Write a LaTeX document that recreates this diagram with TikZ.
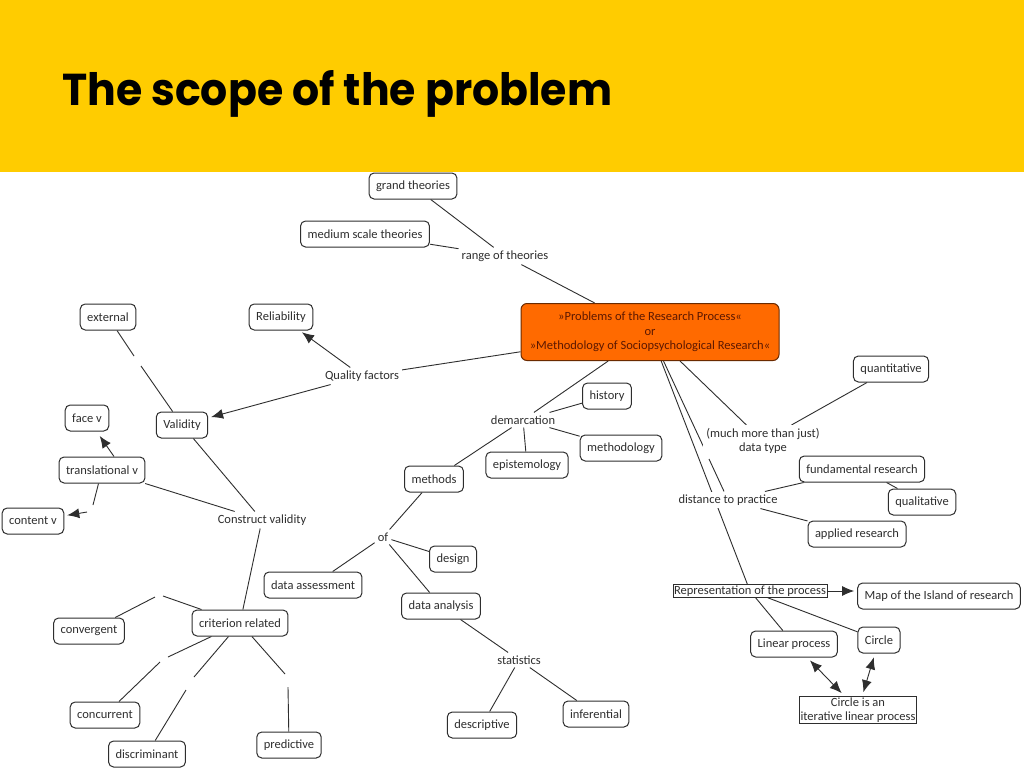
\documentclass[tikz,border=0pt]{standalone}
\usepackage{fontspec}
\setmainfont{Carlito}
\newfontfamily\titlefont{Poppins}
\usetikzlibrary{arrows.meta,calc,backgrounds}
\definecolor{band}{HTML}{FFCC00}
\definecolor{orng}{HTML}{FF6A00}
\definecolor{obrd}{HTML}{6A2A00}
\definecolor{otxt}{HTML}{5C1800}
\definecolor{ink}{HTML}{2E2E2E}
\begin{document}
\begin{tikzpicture}[x=1pt,y=-1pt,
  txt/.style={font=\fontsize{12.5}{14.5}\selectfont, text=ink},
  concept/.style={txt, draw=ink, line width=1pt, rounded corners=5pt, fill=white, inner xsep=7pt, minimum height=26pt},
  lbl/.style={txt, fill=white, inner sep=3pt},
  sq/.style={txt, draw=ink, line width=0.8pt, inner sep=1pt, fill=white},
  mainbox/.style={txt, text=otxt, fill=orng, draw=obrd, line width=1pt, rounded corners=6pt, minimum width=258pt, minimum height=57pt, align=center},
  link/.style={draw=ink, line width=0.9pt},
  arr/.style={link, -{Latex[length=12pt,width=10pt]}, shorten >=3pt},
  darr/.style={link, {Latex[length=12pt,width=10pt]}-{Latex[length=12pt,width=10pt]}, shorten <=4pt, shorten >=4pt}
]
\useasboundingbox (0,0) rectangle (1024,768);

% nodes
\node[anchor=base west, inner sep=0pt] (title) at (62,105) {\resizebox{550pt}{35pt}{\titlefont\bfseries The scope of the problem}};
\node[concept] (grand) at (413,186) {grand theories};
\node[concept] (medium) at (365,234) {medium scale theories};
\node[lbl] (range) at (505,256) {range of theories};
\node[mainbox] (main) at (650,332) {»Problems of the Research Process«\\or\\»Methodology of Sociopsychological Research«};
\node[concept] (reli) at (281,317) {Reliability};
\node[concept] (external) at (108,317) {external};
\node[lbl] (quality) at (362,376) {Quality factors};
\node[concept] (validity) at (182,425) {Validity};
\node[concept] (face) at (87,418) {face v};
\node[concept] (trans) at (102,470) {translational v};
\node[concept] (content) at (33,521) {content v};
\node[lbl] (construct) at (262,520) {Construct validity};
\node[concept] (methods) at (434,479) {methods};
\node[lbl] (of) at (383,537) {of};
\node[concept] (design) at (453,559) {design};
\node[concept] (dassess) at (313,585) {data assessment};
\node[concept] (danal) at (441,606) {data analysis};
\node[lbl] (stats) at (519,660) {statistics};
\node[concept] (desc) at (482,725) {descriptive};
\node[concept] (infer) at (596,714) {inferential};
\node[lbl] (demarc) at (523,420) {demarcation};
\node[concept] (history) at (607,396) {history};
\node[concept] (episte) at (527,465) {epistemology};
\node[concept] (methodo) at (621,448) {methodology};
\node[concept] (crit) at (240,623) {criterion related};
\node[concept] (conv) at (89,631) {convergent};
\node[concept] (concur) at (105,715) {concurrent};
\node[concept] (discr) at (147,754) {discriminant};
\node[concept] (pred) at (289,745) {predictive};
\node[concept] (quant) at (891,369) {quantitative};
\node[lbl, align=center] (dtype) at (763,441) {(much more than just)\\data type};
\node[concept] (fund) at (862,469) {fundamental research};
\node[concept] (quali) at (922,502) {qualitative};
\node[lbl] (dist) at (728,500) {distance to practice};
\node[concept] (applied) at (857,534) {applied research};
\node[sq] (repr) at (750,591) {Representation of the process};
\node[concept] (map) at (939,596) {Map of the Island of research};
\node[concept] (linear) at (794,644) {Linear process};
\node[concept] (circle) at (879,640) {Circle};
\node[sq, align=center] (iter) at (858,710) {Circle is an\\iterative linear process};

% gap points
\coordinate (g1) at (134,356); \coordinate (g2) at (141,366);
\coordinate (g3) at (93,505);  \coordinate (g4) at (87,512);
\coordinate (g5) at (163,596); \coordinate (g6) at (155,597);
\coordinate (g7) at (168,657); \coordinate (g8) at (160,662);
\coordinate (g9) at (194,677); \coordinate (g10) at (186,690);
\coordinate (g11) at (285,674); \coordinate (g12) at (288,687);
\coordinate (g13) at (705,450); \coordinate (g14) at (709,459);

\begin{scope}[on background layer]
\fill[white] (0,0) rectangle (1024,768);
\fill[band] (0,0) rectangle (1024,172);
\draw[link] (main) -- (range);
\draw[link] (range) -- (grand);
\draw[link] (range) -- (medium);
\draw[link] (main) -- (quality);
\draw[arr] (quality) -- (reli);
\draw[arr] (quality) -- (validity);
\draw[link] (external) -- (g1);
\draw[link] (g2) -- (validity);
\draw[link] (construct) -- (validity);
\draw[link] (construct) -- (trans);
\draw[link] (construct) -- (crit);
\draw[arr] ($(trans.north)+(12,0)$) -- ($(face.south)+(11,2)$);
\draw[link] (trans) -- (g3);
\draw[arr] (g4) -- (content);
\draw[link] (crit) -- (g5);
\draw[link] (g6) -- (conv);
\draw[link] (crit) -- (g7);
\draw[link] (g8) -- (concur);
\draw[link] (crit) -- (g9);
\draw[link] (g10) -- (discr);
\draw[link] (crit) -- (g11);
\draw[link] (g12) -- (pred);
\draw[link] (main) -- (demarc);
\draw[link] (demarc) -- (history);
\draw[link] (demarc) -- (episte);
\draw[link] (demarc) -- (methodo);
\draw[link] (demarc) -- (methods);
\draw[link] (methods) -- (of);
\draw[link] (of) -- (design);
\draw[link] (of) -- (dassess);
\draw[link] (of) -- (danal);
\draw[link] (danal) -- (stats);
\draw[link] (stats) -- (desc);
\draw[link] (stats) -- (infer);
\draw[link] (main) -- (dtype);
\draw[link] (dtype) -- (quant);
\draw[link] (main) -- (g13);
\draw[link] (g14) -- (dist);
\draw[link] (main) -- (repr);
\draw[link] (dist) -- (fund);
\draw[link] (dist) -- (applied);
\draw[link] (fund) -- (quali);
\draw[arr] (repr.east) -- (repr.east -| map.west);
\draw[link] (repr) -- (linear);
\draw[link] (repr) -- (circle);
\draw[darr] (linear) -- (iter);
\draw[darr] (circle) -- (iter);
\end{scope}
\end{tikzpicture}
\end{document}
